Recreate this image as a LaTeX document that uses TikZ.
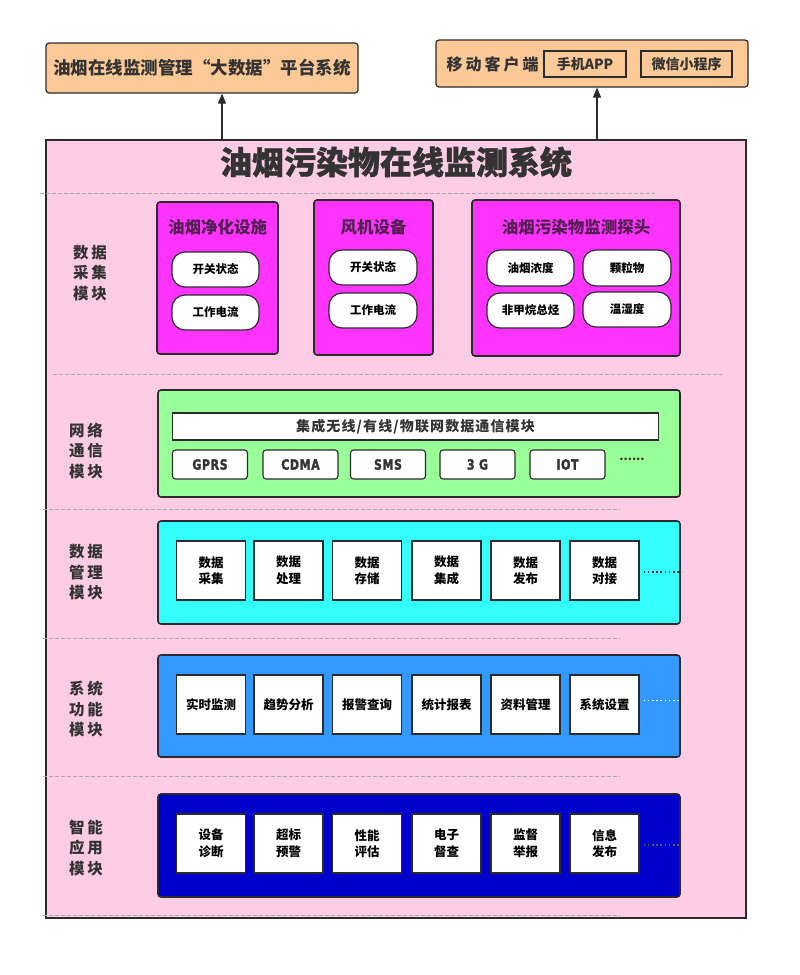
\documentclass[tikz,border=0pt]{standalone}
\usepackage{fontspec}
\usepackage{graphicx}
\setmainfont{Noto Sans CJK SC}
\newfontfamily\narrowf{DejaVu Sans}[FakeBold=2.2, LetterSpace=6]
\usetikzlibrary{arrows.meta}
\definecolor{pinkbg}{HTML}{FFCCE6}
\definecolor{orangebg}{HTML}{FCC997}
\definecolor{magbg}{HTML}{FF33FF}
\definecolor{greenbg}{HTML}{99FF99}
\definecolor{cyanbg}{HTML}{33FFFF}
\definecolor{bluebg}{HTML}{3399FF}
\definecolor{navybg}{HTML}{0000CC}
\definecolor{darkline}{HTML}{2B2B2B}
\definecolor{txt}{HTML}{333333}
\definecolor{purpletxt}{HTML}{52204F}
\definecolor{dashgray}{HTML}{AAAAAA}
\newcommand{\fs}[2]{\fontsize{#1}{#2}\selectfont}
\newcommand{\nb}[1]{\scalebox{0.78}[1]{#1}}
\newcommand{\gp}{\hspace{3pt}}
\tikzset{
  topbox/.style={draw=darkline, line width=1.2pt, fill=orangebg, rounded corners=3pt, inner sep=0pt},
  innerbox/.style={draw=darkline, line width=1.2pt, fill=orangebg, inner sep=0pt, font=\fs{14}{16}\bfseries, text=txt},
  mainbox/.style={draw=darkline, line width=1.2pt, fill=pinkbg, inner sep=0pt},
  panel/.style={draw=darkline, line width=1.6pt, rounded corners=3pt, inner sep=0pt},
  magtitle/.style={font=\fs{16.5}{18}\bfseries, text=purpletxt},
  pill/.style={draw=darkline, line width=1.2pt, fill=white, rounded corners=13pt, inner sep=0pt, font=\fs{11.5}{13}\bfseries, text=black},
  whitebar/.style={draw=darkline, line width=1.2pt, fill=white, inner sep=0pt, font=\fs{14}{16}\bfseries\addfontfeature{LetterSpace=8}, text=txt},
  netbtn/.style={draw=darkline, line width=1.1pt, fill=white, rounded corners=3pt, inner sep=0pt, minimum width=75pt, minimum height=29pt, font=\narrowf\fs{14}{16}\bfseries, text=txt},
  sq/.style={draw=darkline, line width=1.1pt, fill=white, inner sep=0pt, minimum width=69pt, align=center, font=\fs{12.5}{16.5}\bfseries, text=black},
  rowlbl/.style={align=center, font=\fs{15.5}{20.5}\bfseries, text=txt},
  dline/.style={draw=dashgray, dashed, dash pattern=on 4pt off 2pt, line width=0.8pt},
  dotsl/.style={line width=1.6pt, dash pattern=on 1.6pt off 2.6pt},
  upar/.style={draw=darkline, line width=1.1pt, -{Triangle[length=10pt, width=8pt]}},
}
\begin{document}
\begin{tikzpicture}[x=1pt, y=-1pt]
\useasboundingbox (0,0) rectangle (800,975);
\fill[white] (0,0) rectangle (800,975);

% top boxes
\node[topbox, minimum width=312pt, minimum height=50pt, font=\fs{17.5}{19}\bfseries, text=txt] (bigdata) at (202,68) {油烟在线监测管理“大数据”平台系统};
\node[topbox, minimum width=312pt, minimum height=47pt] (mobile) at (592,63.5) {};
\node[font=\fs{16}{18}\bfseries, text=txt, anchor=west] (mobtxt) at (443,64) {移\gp 动\gp 客\gp 户\gp 端};
\node[innerbox, minimum width=82pt, minimum height=26pt] (app) at (585,64) {手机APP};
\node[innerbox, minimum width=91pt, minimum height=26pt] (wx) at (686.5,64) {微信小程序};

% main box
\node[mainbox, minimum width=700pt, minimum height=778pt] (main) at (396,529) {};
\node[font=\fs{32}{34}\bfseries\addfontfeature{FakeBold=1.2}, text=txt] (title) at (396,162) {油烟污染物在线监测系统};

\coordinate (a1) at (222,0);
\coordinate (a2) at (597,0);
\draw[upar] (main.north -| a1) -- (bigdata.south -| a1);
\draw[upar] (main.north -| a2) -- (mobile.south -| a2);

% dashed separators
\draw[dline] (40,193) -- (655,193);
\draw[dline] (53,374) -- (722,374);
\draw[dline] (43,509) -- (620,509);
\draw[dline] (43,638.5) -- (620,638.5);
\draw[dline] (43,776) -- (620,776);
\draw[dline] (43,915) -- (620,915);

% row labels
\node[rowlbl] (l1) at (90,273) {数\gp 据\\采\gp 集\\模\gp 块};
\node[rowlbl] (l2) at (86,451) {网\gp 络\\通\gp 信\\模\gp 块};
\node[rowlbl] (l3) at (86,572.5) {数\gp 据\\管\gp 理\\模\gp 块};
\node[rowlbl] (l4) at (86,709.5) {系\gp 统\\功\gp 能\\模\gp 块};
\node[rowlbl] (l5) at (86,848) {智\gp 能\\应\gp 用\\模\gp 块};

% row 1: data collection
\node[panel, fill=magbg, minimum width=121pt, minimum height=152pt] (m1) at (217.5,278) {};
\node[magtitle] (m1t) at (217.5,227) {油烟净化设施};
\node[pill, minimum width=87pt, minimum height=35pt] (m1a) at (215.5,269.5) {开关状态};
\node[pill, minimum width=87pt, minimum height=35pt] (m1b) at (215.5,312.5) {工作电流};

\node[panel, fill=magbg, minimum width=119pt, minimum height=155pt] (m2) at (373.5,277.5) {};
\node[magtitle] (m2t) at (373.5,227) {风机设备};
\node[pill, minimum width=88pt, minimum height=35pt] (m2a) at (373,267.5) {开关状态};
\node[pill, minimum width=88pt, minimum height=35pt] (m2b) at (373,310.5) {工作电流};

\node[panel, fill=magbg, minimum width=208pt, minimum height=156pt] (m3) at (576,278) {};
\node[magtitle] (m3t) at (576,227) {油烟污染物监测探头};
\node[pill, minimum width=87pt, minimum height=36pt] (m3a) at (530.5,268) {油烟浓度};
\node[pill, minimum width=88pt, minimum height=36pt] (m3b) at (627,268) {颗粒物};
\node[pill, minimum width=87pt, minimum height=35pt] (m3c) at (530.5,310.5) {非甲烷总烃};
\node[pill, minimum width=88pt, minimum height=35pt] (m3d) at (627,309.5) {温湿度};

% row 2: network
\node[panel, fill=greenbg, minimum width=522pt, minimum height=107pt] (net) at (419,443.5) {};
\node[whitebar, minimum width=486pt, minimum height=27pt] (bar) at (415.5,426.5) {集成无线/有线/物联网数据通信模块};
\node[netbtn] (b1) at (210,464.5) {\nb{GPRS}};
\node[netbtn] (b2) at (300.5,464.5) {\nb{CDMA}};
\node[netbtn] (b3) at (388,464.5) {\nb{SMS}};
\node[netbtn] (b4) at (477.5,464.5) {\nb{3 G}};
\node[netbtn] (b5) at (567.5,464.5) {\nb{IOT}};
\node[font=\fs{12}{14}\bfseries, text=txt] (netdots) at (632,459) {......};

% row 3: data management
\node[panel, fill=cyanbg, minimum width=522pt, minimum height=103pt] (dm) at (419,572.5) {};
\foreach \n/\x/\t in {1/211/数据\\采集, 2/288.5/数据\\处理, 3/367/数据\\存储, 4/446.5/数据\\集成, 5/525.5/数据\\发布, 6/604.5/数据\\对接}{
  \node[sq, minimum height=59pt] (d\n) at (\x,570.5) {\t};
}
\draw[dotsl, draw=darkline] ([xshift=4pt,yshift=-1.5pt]d6.east) -- ([xshift=-2pt,yshift=-1.5pt]dm.east |- d6.east);

% row 4: system functions
\node[panel, fill=bluebg, minimum width=522pt, minimum height=102pt] (sf) at (419,706) {};
\foreach \n/\x/\t in {1/211/实时监测, 2/288.5/趋势分析, 3/367/报警查询, 4/446.5/统计报表, 5/525.5/资料管理, 6/604.5/系统设置}{
  \node[sq, minimum height=59pt] (s\n) at (\x,704.5) {\t};
}
\draw[dotsl, draw=white] ([xshift=4pt,yshift=4pt]s6.east) -- ([yshift=4pt]sf.east |- s6.east);

% row 5: intelligent applications
\node[panel, fill=navybg, minimum width=522pt, minimum height=103pt] (ia) at (419,845.5) {};
\foreach \n/\x/\t in {1/211/设备\\诊断, 2/288.5/超标\\预警, 3/367/性能\\评估, 4/446.5/电子\\督查, 5/525.5/监督\\举报, 6/604.5/信息\\发布}{
  \node[sq, minimum height=59pt] (i\n) at (\x,843.5) {\t};
}
\draw[dotsl, draw=black!65] ([xshift=4pt,yshift=-1.5pt]i6.east) -- ([yshift=-1.5pt]ia.east |- i6.east);
\end{tikzpicture}
\end{document}
